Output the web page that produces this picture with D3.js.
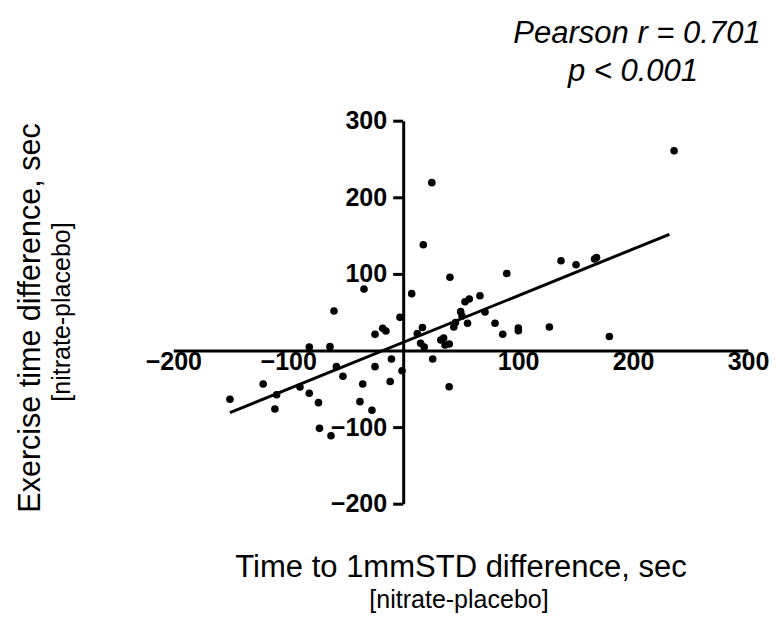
<!DOCTYPE html>
<html>
<head>
<meta charset="utf-8">
<script src="https://cdn.jsdelivr.net/npm/d3@7"></script>
<style>
  html, body { margin: 0; padding: 0; background: #fff; }
  svg { display: block; font-family: "Liberation Sans", Arial, sans-serif; }
</style>
</head>
<body>
<svg id="chart" width="776" height="641"></svg>
<script>
// Time to 1mmSTD difference (sec) [nitrate-placebo]
const xValues = [
  -150.7, -121.8, -110.1, -111.6, -89.8, -81.7, -81.7, -73.7, -63.7, -60.2,
  -58.1, -52.4, -72.8, -62.8, -37.6, -35.2, -34.1, -27.2, -24.5, -24.5,
  -17.8, -15.0, -10.2, -11.3, -2.8, -1.0, 7.4, 12.3, 16.8, 15.2,
  18.3, 25.7, 24.9, 17.5, 40.7, 32.7, 35.2, 36.4, 40.1, 44.0,
  45.5, 50.0, 51.2, 53.8, 57.5, 56.0, 66.8, 71.2, 79.9, 86.6,
  40.0, 90.1, 100.2, 100.2, 127.2, 137.3, 150.4, 166.5, 168.2, 179.4,
  235.7
];
// Exercise time difference (sec) [nitrate-placebo]
const yValues = [
  -63.7, -43.7, -57.7, -76.4, -47.7, -55.9, 4.6, -68.1, 5.0, 51.6,
  -21.1, -33.7, -101.6, -111.2, -66.8, -43.7, 80.3, -78.1, 21.1, -21.1,
  29.0, 25.5, -11.1, -40.5, 43.3, -26.4, 74.2, 22.2, 30.0, 9.4,
  4.6, -11.1, 219.1, 138.1, 95.6, 13.7, 16.3, 7.2, 8.5, 30.7,
  36.6, 50.7, 45.0, 63.7, 67.2, 35.5, 71.5, 50.3, 35.5, 21.3,
  -47.3, 100.5, 29.4, 25.8, 30.7, 117.1, 112.0, 119.5, 121.4, 18.3,
  260.8
];
// regression line
const fitX = [-150.7, 231.6];
const fitY = [-81.2, 151.7];
const xTicks = [-200, -100, 100, 200, 300];
const yTicks = [-200, -100, 100, 200, 300];
const statLines = ["Pearson r = 0.701", "p < 0.001"];
const xTitle = "Time to 1mmSTD difference, sec";
const yTitle = "Exercise time difference, sec";
const subTitle = "[nitrate-placebo]";

const svg = d3.select("#chart");
const x = d3.scaleLinear().domain([-200, 300]).range([173.3, 748]);
const y = d3.scaleLinear().domain([-200, 300]).range([503.7, 120.7]);

// x axis (through y = 0)
const gx = svg.append("g")
  .attr("transform", `translate(0,${y(0)})`)
  .call(d3.axisBottom(x).tickValues(xTicks).tickSize(0).tickSizeOuter(0).tickPadding(2).tickFormat(d3.format("d")));
gx.select(".domain").attr("stroke", "#000").attr("stroke-width", 3);
gx.selectAll("text").attr("font-size", 25).attr("font-weight", "bold")
  .attr("font-family", "'Liberation Sans', Arial, sans-serif").attr("fill", "#000");

// y axis (through x = 0)
const gy = svg.append("g")
  .attr("transform", `translate(${x(0)},0)`)
  .call(d3.axisLeft(y).tickValues(yTicks).tickSize(10).tickSizeOuter(0).tickPadding(6).tickFormat(d3.format("d")));
gy.select(".domain").attr("stroke", "#000").attr("stroke-width", 3);
gy.selectAll(".tick line").attr("stroke", "#000").attr("stroke-width", 3);
gy.selectAll("text").attr("font-size", 25).attr("font-weight", "bold")
  .attr("font-family", "'Liberation Sans', Arial, sans-serif").attr("fill", "#000");

// regression line
svg.append("line")
  .attr("x1", x(fitX[0])).attr("y1", y(fitY[0]))
  .attr("x2", x(fitX[1])).attr("y2", y(fitY[1]))
  .attr("stroke", "#000").attr("stroke-width", 3);

// points
svg.append("g").selectAll("circle")
  .data(xValues.map((v, i) => [v, yValues[i]]))
  .join("circle")
  .attr("cx", d => x(d[0]))
  .attr("cy", d => y(d[1]))
  .attr("r", 3.8)
  .attr("fill", "#000");

// stats text
svg.append("text").attr("x", 637).attr("y", 43).attr("text-anchor", "middle")
  .attr("font-size", 31).attr("font-style", "italic").text(statLines[0]);
svg.append("text").attr("x", 633).attr("y", 81).attr("text-anchor", "middle")
  .attr("font-size", 31).attr("font-style", "italic").text(statLines[1]);

// x title
svg.append("text").attr("x", 461).attr("y", 577).attr("text-anchor", "middle")
  .attr("font-size", 31).text(xTitle);
svg.append("text").attr("x", 459).attr("y", 608).attr("text-anchor", "middle")
  .attr("font-size", 25).text(subTitle);

// y title
svg.append("text").attr("transform", "translate(40,318) rotate(-90)")
  .attr("text-anchor", "middle").attr("font-size", 30.5).text(yTitle);
svg.append("text").attr("transform", "translate(70,312) rotate(-90)")
  .attr("text-anchor", "middle").attr("font-size", 25).text(subTitle);
</script>
</body>
</html>
